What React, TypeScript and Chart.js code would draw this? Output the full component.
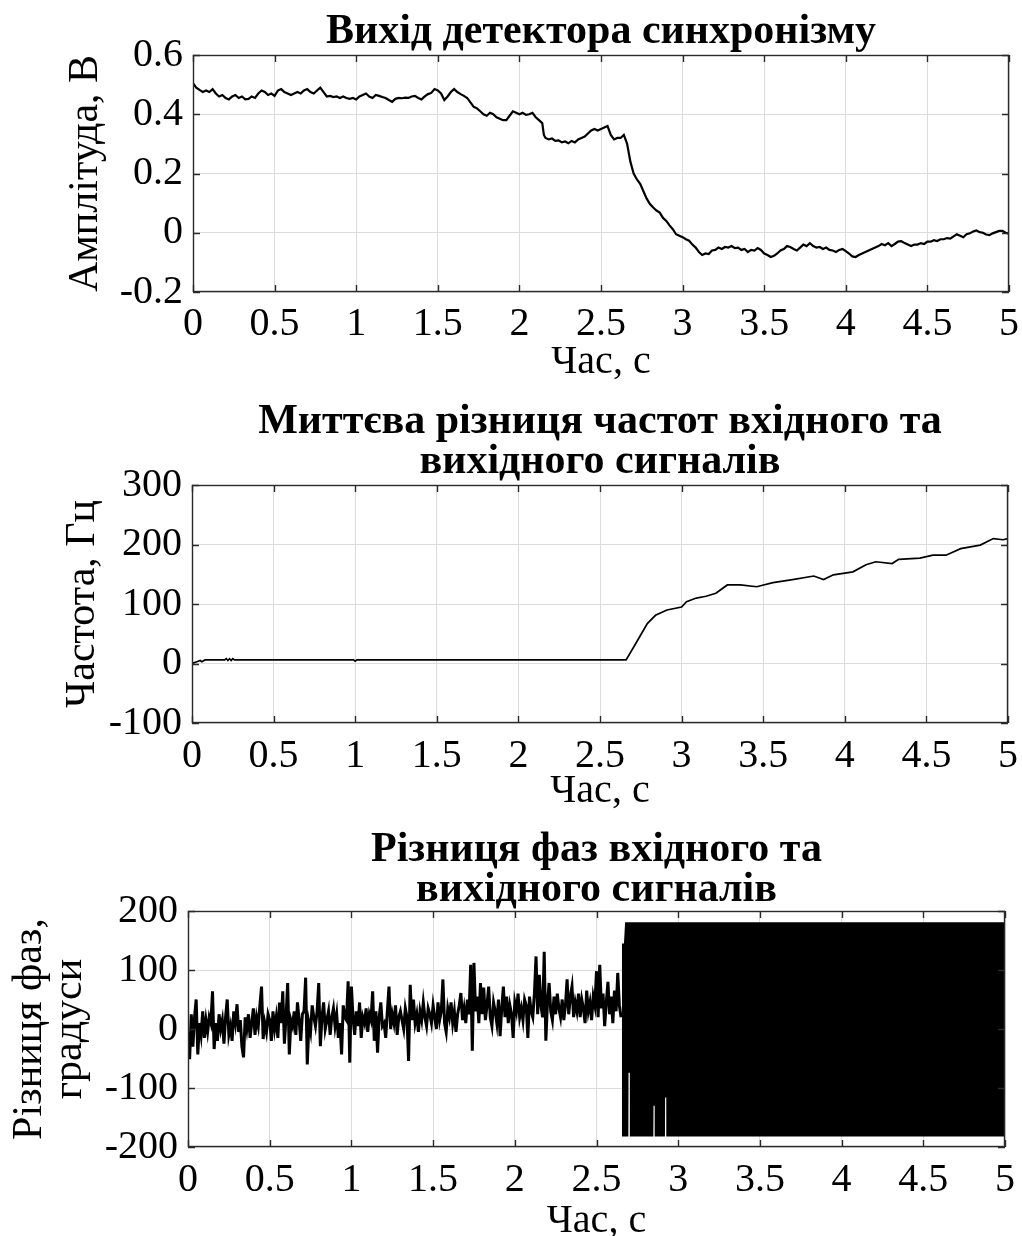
import React, { useEffect, useRef } from 'react';
import { Chart, registerables } from 'chart.js';

Chart.register(...registerables);

const FONT = '"Liberation Serif", "Times New Roman", serif';

// ---------- shared axis ----------
const xTicks = [0, 0.5, 1, 1.5, 2, 2.5, 3, 3.5, 4, 4.5, 5];
const xTickLabels = ['0', '0.5', '1', '1.5', '2', '2.5', '3', '3.5', '4', '4.5', '5'];
const xTitle = 'Час, с';

// ---------- panel 1: synchronism detector output ----------
const ampTitle = 'Вихід детектора синхронізму';
const ampYTitle = 'Амплітуда, В';
const ampYTicks = [-0.2, 0, 0.2, 0.4, 0.6];
const ampYTickLabels = ['-0.2', '0', '0.2', '0.4', '0.6'];
const ampT = [
  0.0, 0.02, 0.04, 0.06, 0.08, 0.1, 0.12, 0.14, 0.16, 0.18, 0.2, 0.22, 0.24, 0.26, 0.28, 0.3, 0.32, 0.34, 0.36, 0.38,
  0.4, 0.42, 0.44, 0.46, 0.48, 0.5, 0.52, 0.54, 0.56, 0.58, 0.6, 0.62, 0.64, 0.66, 0.68, 0.7, 0.72, 0.74, 0.76, 0.78,
  0.8, 0.82, 0.84, 0.86, 0.88, 0.9, 0.92, 0.94, 0.96, 0.98, 1.0, 1.02, 1.04, 1.06, 1.08, 1.1, 1.12, 1.14, 1.16, 1.18,
  1.2, 1.22, 1.24, 1.26, 1.28, 1.3, 1.32, 1.34, 1.36, 1.38, 1.4, 1.42, 1.44, 1.46, 1.48, 1.5, 1.52, 1.54, 1.56, 1.58,
  1.6, 1.62, 1.64, 1.66, 1.68, 1.7, 1.72, 1.74, 1.76, 1.78, 1.8, 1.82, 1.84, 1.86, 1.88, 1.9, 1.92, 1.94, 1.96, 1.98,
  2.0, 2.02, 2.04, 2.06, 2.08, 2.1, 2.12, 2.14, 2.15, 2.16, 2.18, 2.2, 2.22, 2.24, 2.26, 2.28, 2.3, 2.32, 2.34, 2.36,
  2.38, 2.4, 2.42, 2.44, 2.46, 2.48, 2.5, 2.52, 2.54, 2.56, 2.58, 2.6, 2.62, 2.64, 2.66, 2.68, 2.7, 2.72, 2.74, 2.76,
  2.78, 2.8, 2.82, 2.84, 2.86, 2.88, 2.9, 2.92, 2.94, 2.96, 2.98, 3.0, 3.02, 3.04, 3.06, 3.08, 3.1, 3.12, 3.14, 3.16,
  3.18, 3.2, 3.22, 3.24, 3.26, 3.28, 3.3, 3.32, 3.34, 3.36, 3.38, 3.4, 3.42, 3.44, 3.46, 3.48, 3.5, 3.52, 3.54, 3.56,
  3.58, 3.6, 3.62, 3.64, 3.66, 3.68, 3.7, 3.72, 3.74, 3.76, 3.78, 3.8, 3.82, 3.84, 3.86, 3.88, 3.9, 3.92, 3.94, 3.96,
  3.98, 4.0, 4.02, 4.04, 4.06, 4.08, 4.1, 4.12, 4.14, 4.16, 4.18, 4.2, 4.22, 4.24, 4.26, 4.28, 4.3, 4.32, 4.34, 4.36,
  4.38, 4.4, 4.42, 4.44, 4.46, 4.48, 4.5, 4.52, 4.54, 4.56, 4.58, 4.6, 4.62, 4.64, 4.66, 4.68, 4.7, 4.72, 4.74, 4.76,
  4.78, 4.8, 4.82, 4.84, 4.86, 4.88, 4.9, 4.92, 4.94, 4.96, 4.98, 5.0,
];
const ampV = [
  0.505, 0.49, 0.482, 0.475, 0.48, 0.475, 0.485, 0.47, 0.46, 0.465, 0.455, 0.45, 0.46, 0.465, 0.455, 0.46, 0.45, 0.452, 0.46, 0.455,
  0.47, 0.48, 0.475, 0.465, 0.47, 0.462, 0.48, 0.485, 0.475, 0.47, 0.465, 0.47, 0.475, 0.47, 0.48, 0.485, 0.475, 0.47, 0.48, 0.49,
  0.475, 0.46, 0.462, 0.458, 0.46, 0.455, 0.46, 0.455, 0.452, 0.455, 0.45, 0.46, 0.465, 0.47, 0.46, 0.455, 0.465, 0.462, 0.458, 0.455,
  0.448, 0.442, 0.452, 0.455, 0.454, 0.456, 0.455, 0.46, 0.462, 0.455, 0.45, 0.46, 0.468, 0.472, 0.485, 0.48, 0.47, 0.448, 0.46, 0.475,
  0.485, 0.475, 0.468, 0.462, 0.455, 0.44, 0.425, 0.42, 0.41, 0.4, 0.395, 0.405, 0.4, 0.39, 0.385, 0.38, 0.38, 0.395, 0.41, 0.405,
  0.4, 0.405, 0.398, 0.4, 0.405, 0.39, 0.38, 0.37, 0.33, 0.32, 0.315, 0.318, 0.31, 0.312, 0.305, 0.308, 0.302, 0.31, 0.305, 0.315,
  0.32, 0.325, 0.335, 0.345, 0.35, 0.345, 0.35, 0.355, 0.36, 0.33, 0.315, 0.32, 0.32, 0.33, 0.3, 0.24, 0.2, 0.18, 0.165, 0.14,
  0.115, 0.097, 0.085, 0.075, 0.068, 0.05, 0.04, 0.025, 0.012, -0.005, -0.01, -0.015, -0.022, -0.027, -0.04, -0.05, -0.065, -0.075, -0.07, -0.072,
  -0.06, -0.058, -0.05, -0.055, -0.048, -0.05, -0.045, -0.052, -0.05, -0.058, -0.055, -0.065, -0.058, -0.06, -0.052, -0.058, -0.07, -0.075, -0.082, -0.078,
  -0.07, -0.06, -0.055, -0.045, -0.048, -0.055, -0.06, -0.05, -0.04, -0.045, -0.035, -0.045, -0.05, -0.048, -0.055, -0.05, -0.058, -0.06, -0.065, -0.058,
  -0.055, -0.062, -0.07, -0.08, -0.082, -0.075, -0.07, -0.065, -0.06, -0.055, -0.05, -0.045, -0.038, -0.042, -0.035, -0.045, -0.038, -0.03, -0.028, -0.035,
  -0.04, -0.045, -0.04, -0.04, -0.035, -0.038, -0.03, -0.03, -0.025, -0.028, -0.022, -0.022, -0.018, -0.02, -0.012, -0.005, -0.01, -0.015, -0.005, -0.002,
  0.004, 0.008, 0.002, 0.0, -0.006, -0.008, -0.002, 0.002, 0.006, 0.006, 0.0, -0.003,
];

// ---------- panel 2: instantaneous frequency difference ----------
const freqTitle = ['Миттєва різниця частот вхідного та', 'вихідного сигналів'];
const freqYTitle = 'Частота, Гц';
const freqYTicks = [-100, 0, 100, 200, 300];
const freqYTickLabels = ['-100', '0', '100', '200', '300'];
const freqT = [
  0, 0.03, 0.05, 0.06, 0.08, 0.2, 0.21, 0.22, 0.23, 0.24, 0.25, 0.26, 0.28, 0.99, 1.0, 1.01, 2.66, 2.72, 2.79, 2.84,
  2.91, 3.0, 3.03, 3.09, 3.15, 3.21, 3.28, 3.36, 3.46, 3.56, 3.68, 3.81, 3.87, 3.93, 4.05, 4.13, 4.19, 4.29, 4.33, 4.46,
  4.54, 4.62, 4.71, 4.77, 4.83, 4.91, 4.97, 5.0,
];
const freqV = [
  0, 3, 5, 3, 6, 6, 8, 5, 8, 5, 8, 6, 6, 6, 4, 6, 6, 34, 67, 81,
  90, 95, 104, 110, 113, 118, 132, 132, 129, 136, 141, 147, 141, 149, 154, 166, 171, 168, 175, 177,
  182, 182, 193, 196, 199, 210, 208, 210,
];

// ---------- panel 3: phase difference ----------
const phaseTitle = ['Різниця фаз вхідного та', 'вихідного сигналів'];
const phaseYTitle = ['Різниця фаз,', 'градуси'];
const phaseYTicks = [-200, -100, 0, 100, 200];
const phaseYTickLabels = ['-200', '-100', '0', '100', '200'];
const phaseDt = 0.01; // sampling step of the tracked (locked) part
const phaseV = [
  -5, -51, 25, -30, 20, 50, -43, 10, -10, 30,
  -15, 15, -5, 20, 10, 64, -34, 10, -20, 25,
  0, 15, -25, 20, 50, -10, 5, -20, 30, 10,
  42, -5, 15, -30, -48, 20, 0, 25, -15, 10,
  35, -10, 20, 5, 40, 72, -17, 10, -5, 25,
  15, -20, 30, 0, 20, -15, 45, 10, 64, -25,
  20, 78, -43, 15, 5, 30, -10, 45, 15, -20,
  25, 30, 87, -60, 10, -5, 40, 20, 5, 30,
  78, -29, 20, 45, 0, 15, 30, -10, 20, 35,
  5, 25, -15, 10, -43, 40, 20, 15, 81, -57,
  72, 20, -10, 30, 5, 45, -15, 20, 10, 35,
  -5, 25, 15, 64, -20, 30, -40, 20, 45, 5,
  10, -15, 30, 72, 0, 25, 10, 40, -10, 20,
  30, 15, 0, 35, 20, -54, 75, 15, 50, 10,
  25, -5, 30, 15, 45, 20, 5, 35, 25, 10,
  40, 20, 0, 45, 15, 30, 84, 10, -5, 35,
  20, 45, 10, 30, -5, 25, 40, 61, 15, 35,
  10, 50, 25, 109, -37, 112, 30, 55, 10, 78,
  25, 70, 15, 40, 72, 20, 5, 45, 30, 10,
  50, -12, 35, 72, 20, 55, 10, 40, 25, -15,
  45, 30, 60, 20, 35, 15, 50, 40, -15, 55,
  30, 20, 60, 123, 25, 92, 40, 20, 131, -20,
  45, 78, 30, 15, 55, 25, 60, 35, 20, 50,
  15, 40, 84, 25, 55, 72, 20, 45, 30, 60,
  20, 50, 35, 10, 65, 30, 45, 15, 55, 40,
  98, 20, 109, 35, 60, 5, 45, 80, 25, 55,
  10, 65, 30, 95, 40, 20,
];
// envelope of the unlocked (wrapping ±180°) part
const envT = [2.655, 2.668, 2.675, 2.695, 2.696, 2.704, 2.705, 2.848, 2.849, 2.856, 2.857, 2.919, 2.92, 2.927, 2.928, 5.0];
const envMax = [145, 145, 181, 181, 181, 181, 181, 181, 181, 181, 181, 181, 181, 181, 181, 181];
const envMin = [-182, -182, -182, -182, -74, -74, -182, -182, -130, -130, -182, -182, -116, -116, -182, -182];

// ---------- helpers ----------
const pts = (t: number[], v: number[]) => t.map((x, i) => ({ x, y: v[i] }));

const frameColor = '#2a2a2a';
const boxPlugin = {
  id: 'matlabBox',
  afterDatasetsDraw(chart: any) {
    const { ctx, chartArea } = chart;
    const { left, right, top, bottom } = chartArea;
    const xs = chart.scales.x;
    const ys = chart.scales.y;
    ctx.save();
    ctx.strokeStyle = frameColor;
    ctx.lineWidth = 1.4;
    ctx.beginPath();
    xs.ticks.forEach((t: any) => {
      const px = Math.round(xs.getPixelForValue(t.value)) + 0.5;
      ctx.moveTo(px, bottom);
      ctx.lineTo(px, bottom - 7);
      ctx.moveTo(px, top);
      ctx.lineTo(px, top + 7);
    });
    ys.ticks.forEach((t: any) => {
      const py = Math.round(ys.getPixelForValue(t.value)) + 0.5;
      ctx.moveTo(left, py);
      ctx.lineTo(left + 7, py);
      ctx.moveTo(right, py);
      ctx.lineTo(right - 7, py);
    });
    ctx.stroke();
    ctx.strokeRect(left + 0.5, top + 0.5, right - left - 1, bottom - top - 1);
    ctx.restore();
  },
};

type PanelSpec = {
  top: number;
  height: number;
  areaLeft: number;
  areaRight: number;
  areaTop: number;
  areaBottom: number;
  title: string | string[];
  titlePadTop: number;
  titlePadBottom: number;
  yTitle: string | string[];
  yTitlePad: number;
  xTitlePad: number;
  xTickPad: number;
  yMin: number;
  yMax: number;
  yTicks: number[];
  yTickLabels: string[];
  datasets: any[];
};

function makeConfig(p: PanelSpec): any {
  const tickFont = { family: FONT, size: 40 };
  return {
    type: 'line',
    data: { datasets: p.datasets },
    options: {
      responsive: false,
      animation: false,
      devicePixelRatio: 1,
      parsing: false,
      normalized: true,
      layout: { padding: { left: 0, right: 1022 - p.areaRight, top: 0, bottom: 0 } },
      plugins: {
        legend: { display: false },
        tooltip: { enabled: false },
        title: {
          display: true,
          fullSize: false,
          text: p.title,
          color: '#000',
          font: { family: FONT, size: 42, weight: 'bold', lineHeight: '40px' },
          padding: { top: p.titlePadTop, bottom: p.titlePadBottom },
        },
      },
      elements: { point: { radius: 0 }, line: { tension: 0 } },
      scales: {
        x: {
          type: 'linear',
          min: 0,
          max: 5,
          afterBuildTicks: (s: any) => {
            s.ticks = xTicks.map((v) => ({ value: v }));
          },
          afterFit: (s: any) => {
            s.height = p.height - p.areaBottom;
            s.paddingLeft = 0;
            s.paddingRight = 0;
          },
          grid: { color: '#dcdcdc', lineWidth: 1, drawTicks: false },
          border: { display: false },
          ticks: {
            padding: p.xTickPad,
            font: tickFont,
            color: '#000',
            maxRotation: 0,
            autoSkip: false,
            callback: (_v: any, i: number) => xTickLabels[i],
          },
          title: {
            display: true,
            text: xTitle,
            color: '#000',
            font: { family: FONT, size: 40, lineHeight: '40px' },
            padding: { top: 0, bottom: p.xTitlePad },
          },
        },
        y: {
          type: 'linear',
          min: p.yMin,
          max: p.yMax,
          afterBuildTicks: (s: any) => {
            s.ticks = p.yTicks.map((v) => ({ value: v }));
          },
          afterFit: (s: any) => {
            s.width = p.areaLeft;
            s.paddingTop = 0;
            s.paddingBottom = 0;
          },
          grid: { color: '#dcdcdc', lineWidth: 1, drawTicks: false },
          border: { display: false },
          ticks: {
            padding: 10,
            font: tickFont,
            color: '#000',
            autoSkip: false,
            callback: (_v: any, i: number) => p.yTickLabels[i],
          },
          title: {
            display: true,
            text: p.yTitle,
            color: '#000',
            font: { family: FONT, size: 42, lineHeight: '40px' },
            padding: { top: p.yTitlePad, bottom: 0 },
          },
        },
      },
    },
    plugins: [boxPlugin],
  };
}

function Panel({ spec }: { spec: PanelSpec }) {
  const ref = useRef<HTMLCanvasElement | null>(null);
  useEffect(() => {
    if (!ref.current) return;
    const chart = new Chart(ref.current, makeConfig(spec));
    return () => chart.destroy();
  }, []);
  return (
    <canvas
      ref={ref}
      width={1022}
      height={spec.height}
      style={{ position: 'absolute', left: 0, top: spec.top, width: 1022, height: spec.height }}
    />
  );
}

const phaseT = phaseV.map((_, i) => i * phaseDt);

const panels: PanelSpec[] = [
  {
    top: 0,
    height: 385,
    areaLeft: 193,
    areaRight: 1009,
    areaTop: 55,
    areaBottom: 292,
    title: ampTitle,
    titlePadTop: 12,
    titlePadBottom: 3,
    yTitle: ampYTitle,
    yTitlePad: 66,
    xTitlePad: 3,
    xTickPad: 8,
    yMin: -0.2,
    yMax: 0.6,
    yTicks: ampYTicks,
    yTickLabels: ampYTickLabels,
    datasets: [
      { data: pts(ampT, ampV), borderColor: '#000', borderWidth: 2.2, pointRadius: 0, fill: false },
    ],
  },
  {
    top: 385,
    height: 430,
    areaLeft: 192,
    areaRight: 1008,
    areaTop: 100,
    areaBottom: 338,
    title: freqTitle,
    titlePadTop: 17,
    titlePadBottom: 3,
    yTitle: freqYTitle,
    yTitlePad: 63,
    xTitlePad: 4,
    xTickPad: 9,
    yMin: -100,
    yMax: 300,
    yTicks: freqYTicks,
    yTickLabels: freqYTickLabels,
    datasets: [
      { data: pts(freqT, freqV), borderColor: '#000', borderWidth: 1.7, pointRadius: 0, fill: false },
    ],
  },
  {
    top: 815,
    height: 421,
    areaLeft: 188,
    areaRight: 1005,
    areaTop: 96,
    areaBottom: 332,
    title: phaseTitle,
    titlePadTop: 15,
    titlePadBottom: 1,
    yTitle: phaseYTitle,
    yTitlePad: 10,
    xTitlePad: -5,
    xTickPad: 9,
    yMin: -200,
    yMax: 200,
    yTicks: phaseYTicks,
    yTickLabels: phaseYTickLabels,
    datasets: [
      { data: pts(phaseT, phaseV), borderColor: '#000', borderWidth: 3, pointRadius: 0, fill: false },
      {
        data: pts(envT, envMax),
        borderColor: '#000',
        borderWidth: 0,
        pointRadius: 0,
        backgroundColor: '#000',
        fill: '+1',
      },
      { data: pts(envT, envMin), borderColor: '#000', borderWidth: 0, pointRadius: 0, fill: false },
    ],
  },
];

export default function App() {
  return (
    <div style={{ position: 'absolute', left: 0, top: 0, width: 1022, height: 1236, background: '#fff' }}>
      {panels.map((p, i) => (
        <Panel key={i} spec={p} />
      ))}
    </div>
  );
}
